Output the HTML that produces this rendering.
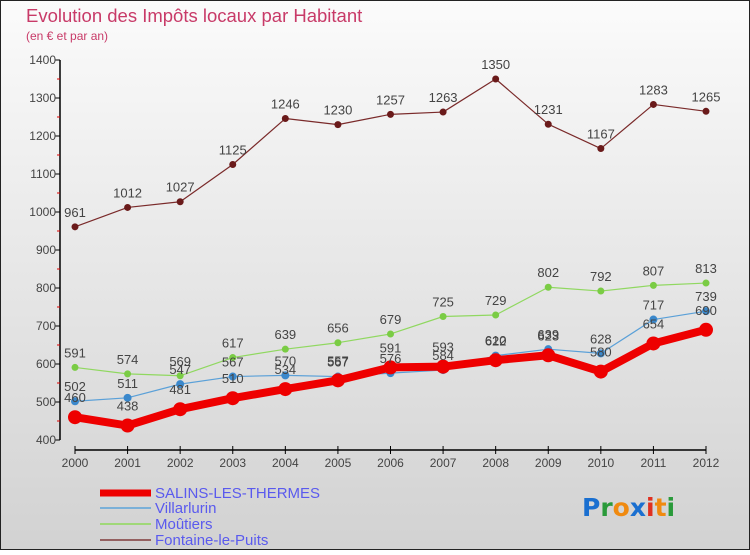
<!DOCTYPE html>
<html><head><meta charset="utf-8"><style>
html,body{margin:0;padding:0}
body{width:750px;height:550px;overflow:hidden;font-family:"Liberation Sans",sans-serif}
</style></head><body>
<svg id="chart" width="750" height="550" xmlns="http://www.w3.org/2000/svg">
<defs><linearGradient id="bg" x1="0" y1="0" x2="0" y2="1"><stop offset="0" stop-color="#fbfbfb"/><stop offset="1" stop-color="#d2d2d2"/></linearGradient></defs>
<rect x="0.5" y="0.5" width="749" height="549" fill="url(#bg)" stroke="#222"/>
<text x="26" y="22" font-size="18.5" fill="#c83a68">Evolution des Impôts locaux par Habitant</text>
<text x="26" y="40" font-size="12" fill="#c83a68">(en € et par an)</text>
<g id="axes"></g><g id="series"></g><g id="legend"></g>
<g font-size="25" font-family="'DejaVu Sans',sans-serif" font-weight="bold">
<text x="582" y="516"><tspan fill="#1a6fd0">P</tspan><tspan fill="#2a9a3a">r</tspan><tspan fill="#f08a10">o</tspan><tspan fill="#1a6fd0">x</tspan><tspan fill="#e03020">i</tspan><tspan fill="#f08a10">t</tspan><tspan fill="#2a9a3a">i</tspan></text></g>
</svg>
<script>
const years=[2000,2001,2002,2003,2004,2005,2006,2007,2008,2009,2010,2011,2012];
const salins=[460,438,481,510,534,557,591,593,610,623,580,654,690];
const villarlurin=[502,511,547,567,570,567,576,584,622,639,628,717,739];
const moutiers=[591,574,569,617,639,656,679,725,729,802,792,807,813];
const fontaine=[961,1012,1027,1125,1246,1230,1257,1263,1350,1231,1167,1283,1265];
const yTicks=[400,500,600,700,800,900,1000,1100,1200,1300,1400];
const NS="http://www.w3.org/2000/svg";
const xs=i=>75+i*(706-75)/(years.length-1);
const ys=v=>440-(v-400)*380/1000;
function mk(tag,attrs,parent){const e=document.createElementNS(NS,tag);for(const k in attrs)e.setAttribute(k,attrs[k]);parent.appendChild(e);return e;}
const ax=document.getElementById('axes');
let a=mk('line',{x1:60,y1:60,x2:60,y2:440,stroke:'#000','stroke-width':1.5},ax);


yTicks.forEach((t,i)=>{
 mk('line',{x1:55,y1:ys(t),x2:60,y2:ys(t),stroke:'#000'},ax);
 if(i<yTicks.length-1)mk('line',{x1:57,y1:ys(t+50),x2:60,y2:ys(t+50),stroke:'#d00'},ax);
 const tx=mk('text',{x:56,y:ys(t)+4,'font-size':12,'text-anchor':'end',fill:'#444'},ax);
 tx.textContent=t;
 
 
});
a=mk('line',{x1:75,y1:450,x2:706,y2:450,stroke:'#000','stroke-width':1.5},ax);


years.forEach((y,i)=>{
 mk('line',{x1:xs(i),y1:446,x2:xs(i),y2:454,stroke:'#000'},ax);
 const tx=mk('text',{x:xs(i),y:467,'font-size':12,'text-anchor':'middle',fill:'#444'},ax);
 tx.textContent=y;
 
 
});
const sg=document.getElementById('series');
const series=[
 {name:'fontaine-le-puits',data:fontaine,c:'#7a2a2a',w:1.2,r:3.5,fill:'#6a1a1a'},
 {name:'moutiers',data:moutiers,c:'#90d860',w:1.2,r:3.5,fill:'#7acc44'},
 {name:'villarlurin',data:villarlurin,c:'#5aa0d8',w:1.2,r:4,fill:'#3a88cc'},
 {name:'salins-les-thermes',data:salins,c:'#ee0000',w:8,r:7,fill:'#ee0000'}];
series.forEach(s=>{
 const g=mk('g',{},sg);
 
 
 const p=mk('polyline',{points:s.data.map((v,i)=>xs(i)+','+ys(v)).join(' '),fill:'none',stroke:s.c,'stroke-width':s.w,'stroke-linejoin':'round'},g);
 
 
 s.data.forEach((v,i)=>{
  const c=mk('circle',{cx:xs(i),cy:ys(v),r:s.r,fill:s.fill},g);
  
  
 });
});
series.forEach(s=>{
 s.data.forEach((v,i)=>{
  const t=mk('text',{x:xs(i),y:ys(v)-(s.r>5?15:10),'font-size':13,'text-anchor':'middle',fill:'#444'},sg);
  t.textContent=v;
  
  
 });
});
const lg=document.getElementById('legend');
const leg=[['SALINS-LES-THERMES','#ee0000',7,498],['Villarlurin','#7ab0d8',2,513],['Moûtiers','#a0d878',2,529],['Fontaine-le-Puits','#946060',2,545]];
leg.forEach(l=>{
 const g=mk('g',{},lg);
 
 
 mk('line',{x1:100,y1:l[3]-5,x2:151,y2:l[3]-5,stroke:l[1],'stroke-width':l[2]},g);
 const t=mk('text',{x:155,y:l[3],'font-size':15,fill:'#5a5aee'},g);
 t.textContent=l[0];
});
</script>
</body></html>
